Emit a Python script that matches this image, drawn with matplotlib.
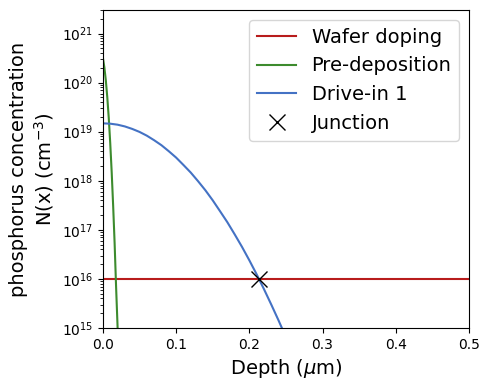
import matplotlib
matplotlib.use("Agg")
import matplotlib.pyplot as plt
import numpy as np

# wafer background doping (cm^-3)
wafer_x = [0.0, 0.5]
wafer_n = [1e16, 1e16]

# pre-deposition profile
pre_x = [0.0, 0.002, 0.004, 0.006, 0.008, 0.010, 0.012, 0.014, 0.016, 0.018, 0.020, 0.022]
pre_n = [3.2e20, 2.04e20, 1.11e20, 5.0e19, 1.9e19, 5.9e18, 1.5e18, 3.1e17,
         5.4e16, 7.0e15, 1.1e15, 1.2e14]

# drive-in 1 profile
drive_x = [0.00, 0.01, 0.02, 0.03, 0.04, 0.05, 0.06, 0.07, 0.08, 0.09, 0.10,
           0.11, 0.12, 0.13, 0.14, 0.15, 0.16, 0.17, 0.18, 0.19, 0.20,
           0.21, 0.22, 0.23, 0.24, 0.25, 0.26]
drive_n = [1.48e19, 1.456e19, 1.39e19, 1.28e19, 1.14e19, 9.9e18, 8.3e18, 6.7e18,
           5.3e18, 4.0e18, 2.97e18, 2.1e18, 1.47e18, 9.8e17, 6.4e17, 4.0e17,
           2.4e17, 1.43e17, 8.1e16, 4.5e16, 2.4e16, 1.24e16, 6.2e15, 3.0e15,
           1.42e15, 6.5e14, 2.8e14]

# junction
junc_x = [0.213]
junc_n = [1e16]

fig = plt.figure(figsize=(4.9, 3.9), dpi=100)
ax = fig.add_axes([0.210, 0.159, 0.747, 0.815])

ax.plot(wafer_x, wafer_n, color='#b81c1c', linewidth=1.5, label='Wafer doping')
ax.plot(pre_x, pre_n, color='#3d8b2e', linewidth=1.5, label='Pre-deposition')
ax.plot(drive_x, drive_n, color='#4472c4', linewidth=1.5, label='Drive-in 1')
ax.plot(junc_x, junc_n, 'x', color='black', markersize=11, label='Junction')

ax.set_yscale('log')
ax.set_xlim(0, 0.5)
ax.set_ylim(1e15, 3e21)
ax.set_xticks([0.0, 0.1, 0.2, 0.3, 0.4, 0.5])
ax.set_xlabel(r'Depth ($\mu$m)', fontsize=14)
ax.set_ylabel('phosphorus concentration\nN(x) (cm$^{-3}$)', fontsize=14)
ax.legend(loc='upper right', fontsize=14)

fig.savefig('out.png', dpi=100)
